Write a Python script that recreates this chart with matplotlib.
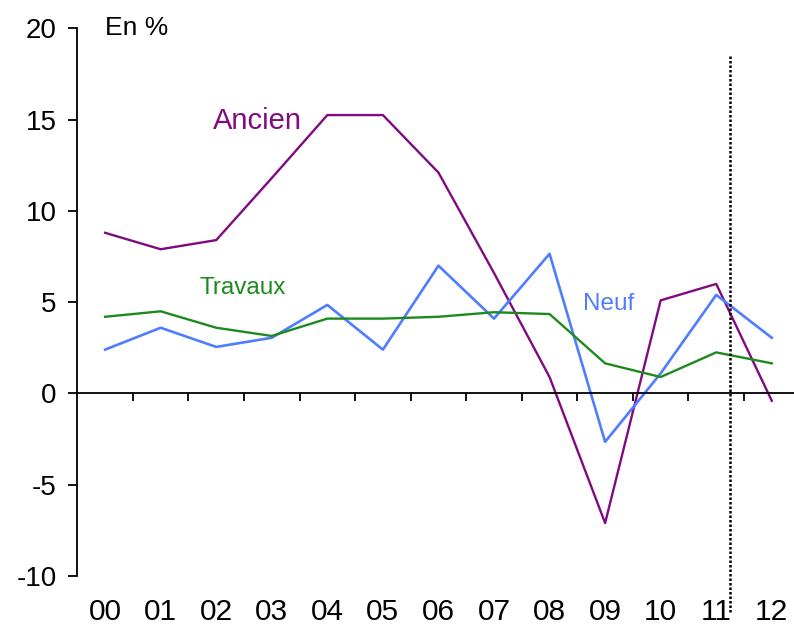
import numpy as np
import matplotlib
matplotlib.use("Agg")
import matplotlib.pyplot as plt
from matplotlib.ticker import FixedLocator

plt.rcParams['font.family'] = ['Liberation Sans', 'DejaVu Sans']
plt.rcParams['axes.unicode_minus'] = False

# donnees (en %)
annees = ["00", "01", "02", "03", "04", "05", "06", "07", "08", "09", "10", "11", "12"]
ancien = [8.8, 7.9, 8.4, 11.8, 15.25, 15.25, 12.1, 6.6, 0.9, -7.1, 5.1, 6.0, -0.4]
neuf = [2.4, 3.6, 2.55, 3.05, 4.85, 2.4, 7.0, 4.1, 7.65, -2.65, 1.1, 5.4, 3.05]
travaux = [4.2, 4.5, 3.6, 3.15, 4.1, 4.1, 4.2, 4.45, 4.35, 1.65, 0.9, 2.25, 1.65]
x_prevision = 11.24

c_ancien = '#800a80'
c_neuf = '#4f7dff'
c_travaux = '#1e8a1e'

x = np.arange(len(annees))

fig = plt.figure(figsize=(7.94, 6.30), dpi=100)
ax = fig.add_axes([0.0974, 0.0857, 0.9026, 0.8693])

ax.plot(x, ancien, color=c_ancien, lw=1.7)
ax.plot(x, neuf, color=c_neuf, lw=1.9)
ax.plot(x, travaux, color=c_travaux, lw=1.7)

# ligne de prevision
ax.plot([x_prevision, x_prevision], [18.5, -12.0], color='black', lw=1.8,
        linestyle=(0, (1, 0.8)), clip_on=False)

ax.set_xlim(-0.5, 12.4)
ax.set_ylim(-10, 20)

for s in ['top', 'right']:
    ax.spines[s].set_visible(False)
ax.spines['bottom'].set_position(('data', 0))
ax.spines['left'].set_linewidth(1.3)
ax.spines['bottom'].set_linewidth(1.3)

ax.set_yticks([-10, -5, 0, 5, 10, 15, 20])
ax.tick_params(axis='y', direction='out', length=6.5, width=1.3, pad=8.5,
               labelsize=20)

ax.set_xticks(x)
ax.set_xticklabels(annees)
ax.xaxis.set_minor_locator(FixedLocator(x[:-1] + 0.5))
ax.tick_params(axis='x', which='major', length=0, pad=147.5, labelsize=21.5)
ax.tick_params(axis='x', which='minor', direction='out', length=6, width=1.3)

ax.text(0.0, 20, "En %", fontsize=19, ha='left', va='center')
ax.text(2.75, 14.9, "Ancien", color=c_ancien, fontsize=21, ha='center', va='center')
ax.text(2.48, 5.75, "Travaux", color=c_travaux, fontsize=17.5, ha='center', va='center')
ax.text(9.07, 4.9, "Neuf", color=c_neuf, fontsize=17.5, ha='center', va='center')

fig.savefig("out.png", dpi=100)
